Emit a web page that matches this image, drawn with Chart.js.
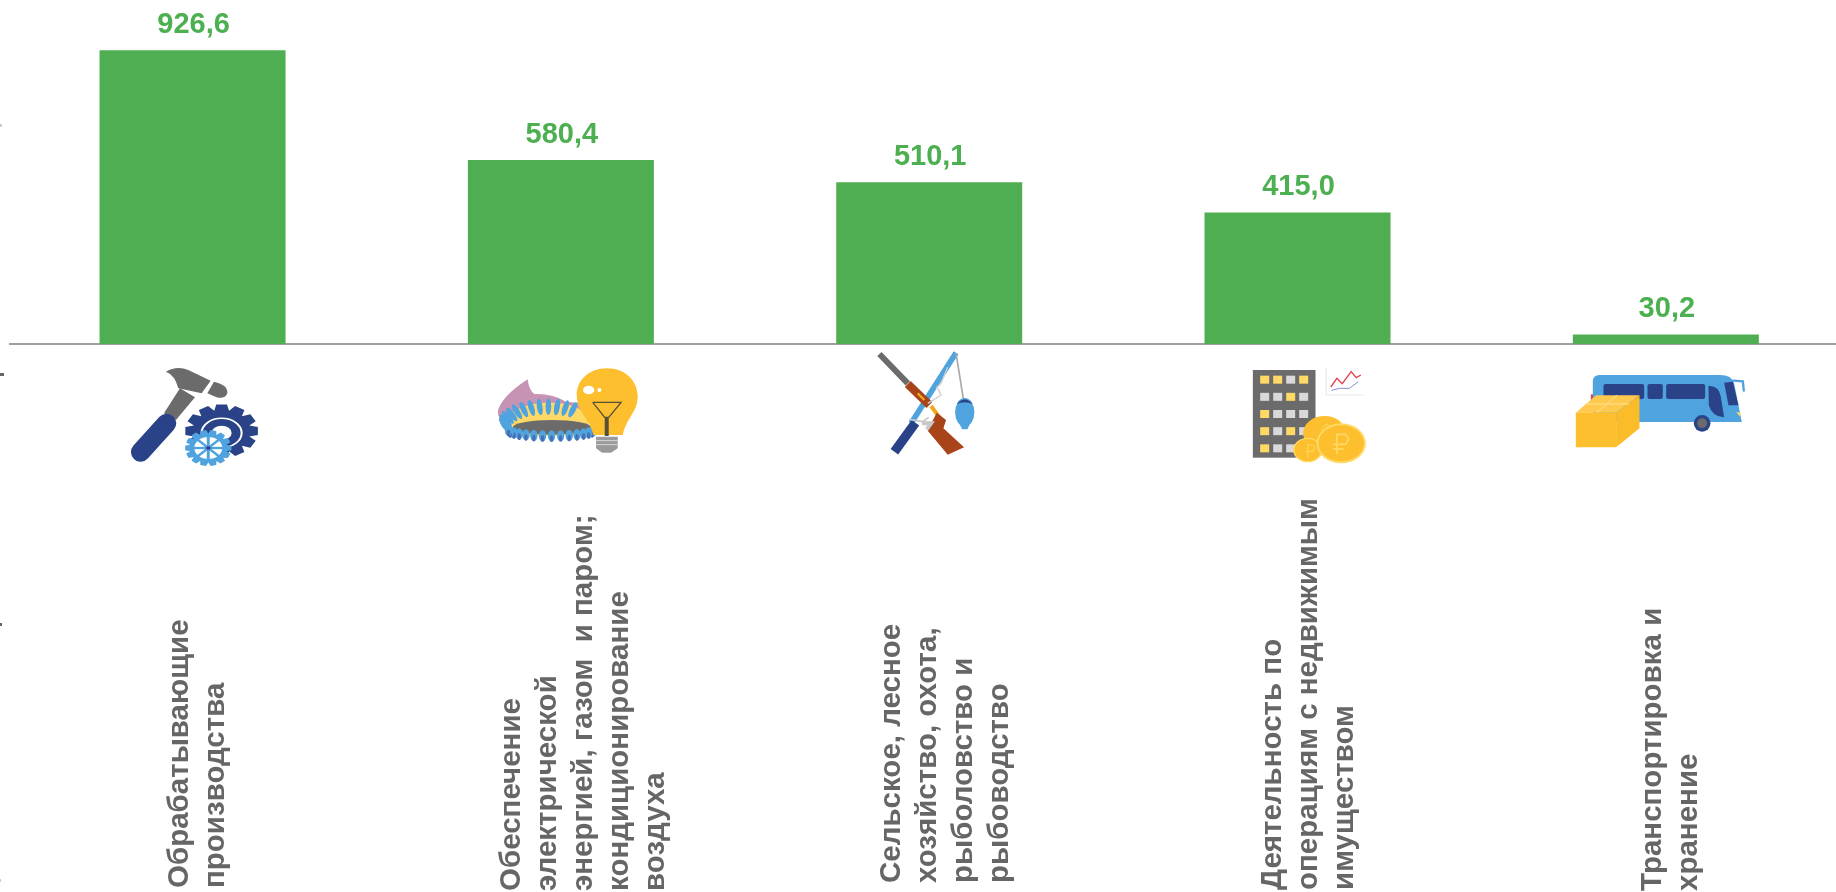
<!DOCTYPE html>
<html lang="ru">
<head>
<meta charset="utf-8">
<title>Отрасли</title>
<script src="https://cdn.jsdelivr.net/npm/chart.js@4"></script>
<style>
    html, body { margin: 0; background: #fff; overflow: hidden; }
    #wrap { width: 1836px; height: 892px; overflow: hidden; }
    canvas { display: block; }
</style>
</head>
<body>
<div id="wrap"><canvas id="barChart" width="1850" height="892"></canvas></div>
<script>
const categories = [
    ['Обрабатывающие', 'производства'],
    ['Обеспечение', 'электрической', 'энергией, газом  и паром;', 'кондиционирование', 'воздуха'],
    ['Сельское, лесное', 'хозяйство, охота,', 'рыболовство и', 'рыбоводство'],
    ['Деятельность по', 'операциям с недвижимым', 'имуществом'],
    ['Транспортировка и', 'хранение']
];
const values = [926.6, 580.4, 510.1, 415.0, 30.2];

// hand placed in the original slide, so each label has its own shift
const labelShift = [5.4, 23, 16.5, 11, 5];
const labelBottom = [888, 891, 883, 890, 891];
const stubs = [[125, 2, '#ccc'], [374, 4, '#666'], [624, 2, '#666'], [880, 1, '#ccc']];

const GREEN = '#4FAE52', TEXT_GREEN = '#4CAF50', GREY = '#6B6B6B';
const BLUE = '#2A4388', SKY = '#4FA3DE', GOLD = '#FDBF2D', PALE = '#FFD966', BROWN = '#A8441A';

function poly(c, color, pts) {
    c.fillStyle = color;
    c.beginPath();
    pts.forEach((p, i) => i ? c.lineTo(p[0], p[1]) : c.moveTo(p[0], p[1]));
    c.closePath();
    c.fill();
}
function path(c, color, d) { c.fillStyle = color; c.fill(new Path2D(d)); }
function line(c, color, width, pts, cap) {
    c.strokeStyle = color;
    c.lineWidth = width;
    c.lineCap = cap || 'butt';
    c.beginPath();
    pts.forEach((p, i) => i ? c.lineTo(p[0], p[1]) : c.moveTo(p[0], p[1]));
    c.stroke();
}
function oval(c, color, x, y, rx, ry) {
    c.fillStyle = color;
    c.beginPath();
    c.ellipse(x, y, rx, ry === undefined ? rx : ry, 0, 0, Math.PI * 2);
    c.fill();
}
function gear(c, color, outer, inner, teeth) {
    const pts = [];
    const step = Math.PI * 2 / teeth;
    for (let i = 0; i < teeth; i++) {
        [[-0.5, inner], [-0.28, outer], [0.28, outer], [0.5, inner]].forEach(t => {
            const a = (i + t[0]) * step;
            pts.push([Math.cos(a) * t[1], Math.sin(a) * t[1]]);
        });
    }
    poly(c, color, pts);
}

function hammerIcon(c) {
    poly(c, GREY, [[240, 145], [285, 172], [228, 240], [192, 220]]);
    line(c, BLUE, 58, [[200, 250], [122, 336]], 'round');
    path(c, GREY, 'M198 95 Q230 76 265 90 L332 122 L305 160 L235 145 Q225 105 198 95Z');
    path(c, GREY, 'M342 125 Q385 135 382 160 Q375 178 350 172 L322 160Z');

    // the picture is stretched sideways, so the gears are flat
    c.save();
    c.translate(365, 273);
    c.scale(1, 0.73);
    gear(c, BLUE, 110, 86, 12);
    c.strokeStyle = '#fff';
    c.lineWidth = 6;
    c.beginPath();
    c.arc(0, 8, 60, 0, Math.PI * 2);
    c.stroke();
    oval(c, '#fff', 0, 8, 30);
    c.restore();

    c.save();
    c.translate(325, 324);
    c.scale(1, 0.78);
    gear(c, SKY, 70, 56, 14);
    oval(c, '#fff', 0, 0, 42);
    for (let i = 0; i < 4; i++) {
        const a = i * Math.PI / 4, dx = Math.cos(a) * 46, dy = Math.sin(a) * 46;
        line(c, SKY, 9, [[-dx, -dy], [dx, dy]]);
    }
    oval(c, BLUE, 0, 0, 7);
    c.restore();
}

function gasIcon(c) {
    path(c, '#C793B5', 'M145 118 Q148 150 165 162 Q220 160 260 185 L310 190 L300 250 L120 285 Q60 260 55 215 Q65 170 145 118Z');
    path(c, PALE, 'M68 238 Q130 186 210 188 Q290 186 330 230 L320 285 L110 290 Q75 265 68 238Z');
    for (let i = 0; i < 13; i++) {
        const a = Math.PI * (1.08 - i * 0.065);
        const px = 205 + Math.cos(a) * 128, py = 250 - Math.sin(a) * 50;
        c.save();
        c.translate(px, py);
        c.rotate(Math.cos(a) * 0.8);
        oval(c, SKY, 0, 0, 8.5, 25);
        c.restore();
    }
    oval(c, GREY, 218, 262, 118, 22);
    for (let i = 0; i < 15; i++) {
        const a = Math.PI * (0.02 + i * 0.068);
        oval(c, SKY, 215 + Math.cos(a) * 128, 270 + Math.sin(a) * 18, 11, 17);
        oval(c, '#4A6FB5', 215 + Math.cos(a) * 128, 278 + Math.sin(a) * 18, 5, 10);
    }
    path(c, GOLD, 'M382 85 C440 85 475 125 475 170 C475 215 440 235 430 285 L342 285 C330 235 292 215 292 165 C292 120 330 85 382 85Z');
    oval(c, '#fff', 328, 150, 17, 13);
    oval(c, '#fff', 360, 150, 6);
    line(c, '#55503A', 4, [[340, 187], [425, 187], [388, 232], [376, 232], [340, 187]]);
    line(c, '#55503A', 12, [[382, 232], [382, 288]]);
    poly(c, '#9A9A9A', [[350, 290], [415, 290], [415, 325], [395, 338], [368, 338], [350, 325]]);
    line(c, '#D8D8D8', 3, [[350, 302], [415, 302]]);
    line(c, '#D8D8D8', 3, [[350, 314], [415, 314]]);
}

function huntIcon(c) {
    line(c, SKY, 17, [[350, 38], [215, 250]]);
    line(c, BLUE, 28, [[228, 248], [165, 335]]);
    line(c, GREY, 18, [[120, 42], [205, 130]]);
    line(c, BROWN, 25, [[205, 132], [270, 195]]);
    line(c, '#F2A81D', 7, [[235, 160], [255, 180]]);
    line(c, '#F2A81D', 12, [[275, 198], [300, 232]]);
    poly(c, BROWN, [[292, 218], [320, 240], [312, 265], [374, 322], [325, 344], [265, 272], [278, 245]]);
    line(c, '#C8C8C8', 5, [[210, 238], [250, 245], [268, 232]]);
    line(c, '#C8C8C8', 12, [[248, 250], [275, 250], [262, 268]]);
    line(c, '#D0D0D0', 4, [[325, 82], [305, 130], [290, 145]]);
    line(c, '#D0D0D0', 4, [[295, 145], [305, 165], [265, 190]]);
    line(c, '#A8A8A8', 5, [[350, 40], [372, 178]]);
    oval(c, SKY, 376, 217, 29, 43);
    path(c, BLUE, 'M352 192 Q376 165 400 192 Q376 182 352 192Z');
    poly(c, SKY, [[362, 255], [390, 255], [384, 268], [368, 268]]);
}

function estateIcon(c) {
    c.fillStyle = GREY;
    c.fillRect(40, 45, 188, 263);
    const marks = ['yygy', 'ggyg', 'yggg', 'ygyg', 'yggg'];
    marks.forEach((row, r) => row.split('').forEach((m, k) => {
        c.fillStyle = m === 'y' ? PALE : '#D9D9D9';
        c.fillRect(62 + k * 39, 62 + r * 51.5, 27, 24);
    }));
    oval(c, GOLD, 255, 235, 64, 52);
    line(c, PALE, 3, [[245, 225], [262, 205], [275, 225]]);
    oval(c, PALE, 205, 285, 44, 37);
    oval(c, GOLD, 205, 285, 40, 33);
    line(c, PALE, 3, [[205, 310], [205, 268], [225, 272], [222, 288], [198, 290]]);
    oval(c, PALE, 305, 265, 74, 60);
    oval(c, GOLD, 305, 265, 68, 54);
    line(c, PALE, 5, [[292, 298], [292, 238], [318, 238], [328, 252], [318, 268], [280, 268]]);
    line(c, PALE, 5, [[280, 282], [312, 282]]);
    line(c, '#DDD', 2, [[260, 38], [260, 120], [372, 120]]);
    line(c, '#E2444E', 4, [[274, 96], [292, 70], [308, 86], [335, 50], [350, 68], [364, 60]]);
    line(c, '#7F8FC8', 3, [[276, 106], [300, 100], [330, 100], [356, 80]]);
}

function busIcon(c) {
    poly(c, '#E2444E', [[92, 103], [100, 103], [100, 125], [92, 125]]);
    path(c, SKY, 'M98 65 Q98 45 118 45 L480 45 Q515 45 522 70 L545 186 L98 186Z');
    line(c, SKY, 7, [[520, 62], [548, 64], [551, 92]], 'round');
    c.fillStyle = BLUE;
    [[130, 122], [262, 46], [318, 117]].forEach(w => {
        c.beginPath();
        c.roundRect(w[0], 72, w[1], 45, 6);
        c.fill();
    });
    path(c, BLUE, 'M445 78 Q475 75 482 110 L492 172 Q455 170 446 135Z');
    poly(c, BLUE, [[492, 68], [518, 65], [535, 136], [505, 136]]);
    poly(c, PALE, [[528, 156], [542, 158], [540, 170]]);
    oval(c, BLUE, 426, 190, 25);
    oval(c, GREY, 426, 190, 15);
    poly(c, '#FFC94D', [[47, 158], [108, 106], [238, 106], [168, 158]]);
    poly(c, GOLD, [[47, 158], [168, 158], [168, 262], [47, 262]]);
    poly(c, '#FBBC2A', [[168, 158], [238, 106], [238, 205], [168, 262]]);
    line(c, '#FFD97A', 4, [[110, 158], [170, 106]]);
    line(c, '#FFD97A', 4, [[78, 132], [206, 132]]);
}

// crop origin of every icon: left side relative to the bar centre, and top
const icons = [
    { draw: hammerIcon, dx: -92.6, y: 340 },
    { draw: gasIcon, dx: -81.5, y: 340 },
    { draw: huntIcon, dx: -89.8, y: 340 },
    { draw: estateIcon, dx: -58, y: 355 },
    { draw: busIcon, dx: -105.7, y: 360 }
];

const decorations = {
    id: 'decorations',
    afterDraw(chart) {
        const c = chart.ctx;
        const x = chart.scales.x, y = chart.scales.y;

        // axis line starts a bit right of the plot area
        c.fillStyle = '#fff';
        c.fillRect(0, chart.chartArea.bottom - 3, 9, 6);

        // value labels above the bars
        c.save();
        c.filter = 'blur(0.4px)';
        c.font = 'bold 29px "Liberation Sans"';
        c.fillStyle = TEXT_GREEN;
        c.textAlign = 'center';
        c.textBaseline = 'alphabetic';
        values.forEach((v, i) => {
            c.fillText(v.toFixed(1).replace('.', ','), x.getPixelForValue(i) + 1, y.getPixelForValue(v) - 17);
        });

        // rotated category labels, left aligned from the bottom
        c.font = 'bold 29.5px "Liberation Sans"';
        c.fillStyle = '#666666';
        c.textAlign = 'left';
        c.textBaseline = 'middle';
        categories.forEach((lines, i) => {
            const mid = x.getPixelForValue(i) + labelShift[i];
            lines.forEach((text, k) => {
                c.save();
                c.translate(mid + (k - (lines.length - 1) / 2) * 36, labelBottom[i]);
                c.rotate(-Math.PI / 2);
                c.fillText(text, 0, 0);
                c.restore();
            });
        });
        c.restore();

        icons.forEach((icon, i) => {
            c.save();
            c.filter = 'blur(0.7px)';
            c.translate(x.getPixelForValue(i) + icon.dx, icon.y);
            c.scale(1 / 3, 1 / 3);
            icon.draw(c);
            c.restore();
        });

        // cut off ticks of the old axis on the left edge
        stubs.forEach(s => {
            c.fillStyle = s[2];
            c.fillRect(0, s[0] - 1, s[1], 3);
        });
    }
};

new Chart(document.getElementById('barChart').getContext('2d'), {
    type: 'bar',
    data: {
        labels: categories.map(l => l.join(' ')),
        datasets: [{
            data: values,
            backgroundColor: GREEN,
            borderWidth: 0,
            barPercentage: 0.505,
            categoryPercentage: 1
        }]
    },
    options: {
        responsive: false,
        animation: false,
        devicePixelRatio: 1,
        layout: { padding: { left: 8.4, right: 0, top: 0, bottom: 540 } },
        plugins: { legend: { display: false }, tooltip: { enabled: false } },
        scales: {
            x: {
                grid: { display: false },
                border: { color: '#A0A0A0', width: 2 },
                ticks: { display: false }
            },
            y: { display: false, min: 0, max: 1085 }
        }
    },
    plugins: [decorations]
});
</script>
</body>
</html>
